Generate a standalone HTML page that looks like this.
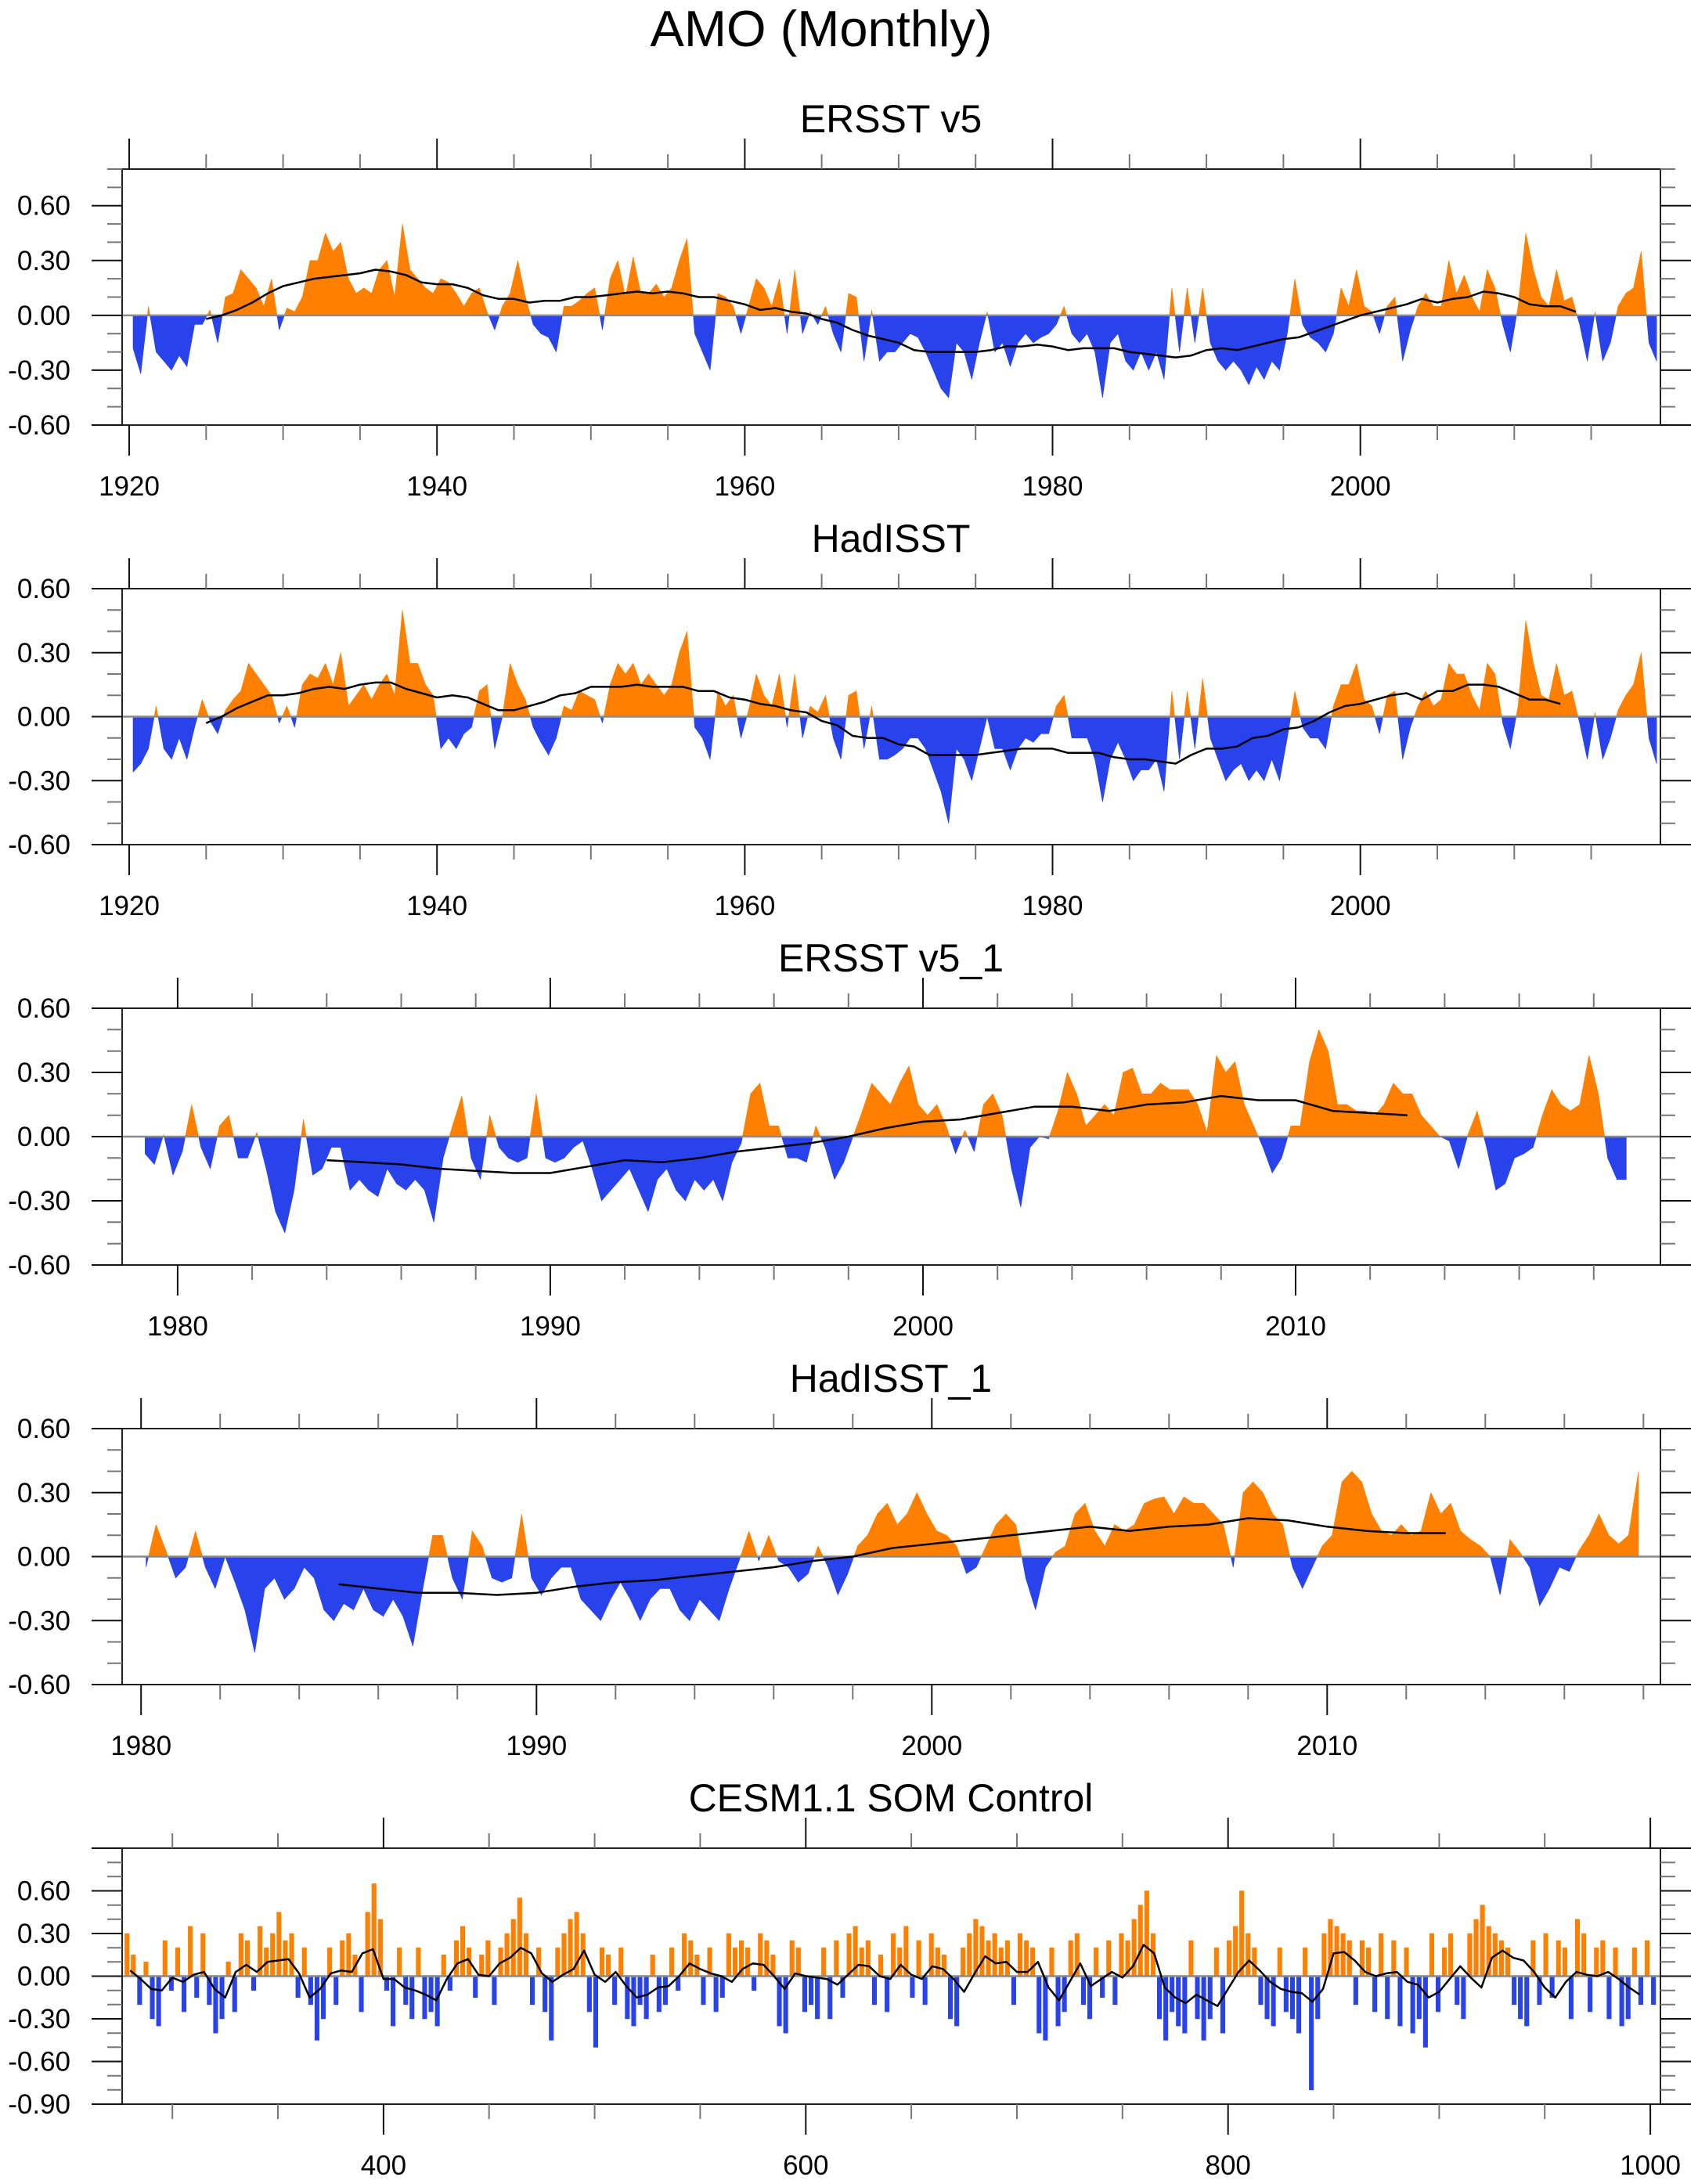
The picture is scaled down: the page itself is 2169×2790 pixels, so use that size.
<!DOCTYPE html>
<html><head><meta charset="utf-8"><title>AMO (Monthly)</title>
<style>html,body{margin:0;padding:0;background:#fff}svg{display:block}text{font-family:"Liberation Sans",Arial,sans-serif;fill:#000}</style>
</head><body>
<svg id="chart" xmlns="http://www.w3.org/2000/svg" width="2169" height="2790" viewBox="0 0 2169 2790">
<rect width="2169" height="2790" fill="#fff"/>
<text x="1049" y="59" font-size="65" text-anchor="middle">AMO (Monthly)</text>
</svg>
<script>
// ---- Panel 1: ERSST v5 (start 1920.0, step 0.5 yr)
const p1Values=[-0.18,-0.32,0.05,-0.2,-0.25,-0.3,-0.22,-0.28,-0.05,-0.05,0.03,-0.15,0.1,0.12,0.25,0.2,0.15,0.05,0.2,-0.08,
0.04,0.02,0.1,0.3,0.3,0.45,0.35,0.4,0.2,0.12,0.15,0.12,0.25,0.3,0.1,0.5,0.25,0.2,0.15,0.12,
0.2,0.18,0.12,0.05,0.12,0.15,0.02,-0.08,0.05,0.12,0.3,0.1,-0.05,-0.1,-0.12,-0.2,0.05,0.05,0.08,0.12,
0.15,-0.08,0.2,0.3,0.1,0.32,0.12,0.12,0.17,0.1,0.15,0.3,0.42,-0.1,-0.2,-0.3,0.12,0.1,0.05,-0.1,
0.05,0.2,0.15,0.05,0.2,-0.1,0.25,-0.1,0.02,-0.05,0.05,-0.1,-0.2,0.12,0.1,-0.25,0.03,-0.25,-0.2,-0.2,
-0.15,-0.1,-0.12,-0.2,-0.3,-0.4,-0.45,-0.15,-0.2,-0.35,-0.15,0.02,-0.2,-0.15,-0.28,-0.15,-0.1,-0.15,-0.12,-0.1,
-0.05,0.05,-0.1,-0.15,-0.1,-0.2,-0.45,-0.15,-0.1,-0.25,-0.3,-0.2,-0.3,-0.2,-0.35,0.15,-0.2,0.15,-0.15,0.15,
-0.15,-0.25,-0.3,-0.25,-0.3,-0.38,-0.28,-0.35,-0.25,-0.3,-0.1,0.2,-0.05,-0.12,-0.15,-0.2,-0.1,0.15,0.05,0.25,
0.05,0.02,-0.1,0.05,0.1,-0.25,-0.08,0.05,0.12,0.05,0.05,0.3,0.12,0.22,0.1,0.02,0.25,0.15,-0.05,-0.2,
0.05,0.45,0.25,0.1,0.05,0.25,0.08,0.1,-0.05,-0.25,0.02,-0.25,-0.15,0.05,0.12,0.15,0.35,-0.15,-0.25];
const p1Smooth=[-0.02,0.0,0.03,0.07,0.12,0.16,0.18,0.2,0.21,0.22,0.23,0.25,0.24,0.22,0.18,0.17,0.17,0.15,0.11,0.09,
0.09,0.07,0.08,0.08,0.1,0.1,0.11,0.12,0.13,0.12,0.13,0.12,0.1,0.1,0.08,0.06,0.03,0.04,0.02,0.01,
-0.02,-0.04,-0.08,-0.11,-0.13,-0.15,-0.19,-0.2,-0.2,-0.2,-0.2,-0.19,-0.17,-0.17,-0.16,-0.17,-0.19,-0.18,-0.18,-0.18,
-0.2,-0.21,-0.22,-0.23,-0.22,-0.19,-0.18,-0.19,-0.17,-0.15,-0.13,-0.12,-0.09,-0.06,-0.03,0.0,0.02,0.04,0.06,0.09,
0.07,0.09,0.1,0.13,0.12,0.1,0.06,0.05,0.05,0.02];
// ---- Panel 2: HadISST
const p2Values=[-0.26,-0.22,-0.15,0.05,-0.15,-0.2,-0.1,-0.2,-0.05,0.08,-0.02,-0.08,0.03,0.08,0.12,0.25,0.2,0.15,0.1,-0.03,
0.05,-0.05,0.15,0.2,0.18,0.25,0.15,0.3,0.05,0.1,0.15,0.08,0.15,0.2,0.1,0.5,0.25,0.25,0.15,0.1,
-0.15,-0.1,-0.15,-0.08,-0.05,0.12,0.15,-0.15,0.0,0.25,0.15,0.08,-0.05,-0.12,-0.18,-0.1,0.05,0.03,0.12,0.1,
0.08,-0.03,0.15,0.25,0.2,0.25,0.15,0.2,0.15,0.1,0.15,0.3,0.4,-0.05,-0.1,-0.2,0.12,0.05,0.1,-0.1,
0.03,0.2,0.1,0.05,0.2,-0.05,0.2,-0.1,0.05,0.02,0.1,-0.1,-0.2,0.1,0.12,-0.15,0.05,-0.2,-0.2,-0.18,
-0.15,-0.1,-0.1,-0.15,-0.25,-0.35,-0.5,-0.15,-0.2,-0.3,-0.15,0.0,-0.15,-0.15,-0.25,-0.15,-0.1,-0.12,-0.08,-0.08,
0.05,0.1,-0.1,-0.1,-0.1,-0.2,-0.4,-0.2,-0.12,-0.2,-0.3,-0.25,-0.25,-0.2,-0.35,0.12,-0.2,0.12,-0.15,0.18,
-0.1,-0.2,-0.3,-0.25,-0.22,-0.3,-0.25,-0.3,-0.2,-0.3,-0.1,0.12,-0.05,-0.1,-0.1,-0.15,0.05,0.15,0.15,0.25,
0.08,0.05,-0.08,0.1,0.12,-0.2,-0.05,0.05,0.12,0.05,0.08,0.25,0.2,0.2,0.1,0.03,0.25,0.2,-0.03,-0.15,
0.05,0.45,0.25,0.1,0.08,0.25,0.1,0.12,-0.03,-0.2,0.02,-0.2,-0.1,0.03,0.1,0.15,0.3,-0.1,-0.22];
const p2Smooth=[-0.03,0.0,0.04,0.07,0.1,0.1,0.11,0.13,0.14,0.13,0.15,0.16,0.16,0.13,0.11,0.09,0.1,0.09,0.06,0.03,
0.03,0.05,0.07,0.1,0.11,0.14,0.14,0.14,0.15,0.14,0.14,0.14,0.12,0.12,0.09,0.08,0.06,0.05,0.03,0.02,
-0.02,-0.04,-0.09,-0.1,-0.1,-0.13,-0.14,-0.18,-0.18,-0.18,-0.18,-0.17,-0.16,-0.15,-0.15,-0.15,-0.17,-0.17,-0.17,-0.19,
-0.2,-0.2,-0.21,-0.22,-0.18,-0.15,-0.15,-0.14,-0.1,-0.09,-0.06,-0.05,-0.02,0.02,0.05,0.06,0.08,0.1,0.11,0.08,
0.12,0.12,0.15,0.15,0.14,0.11,0.08,0.08,0.06];
// ---- Panel 3: ERSST v5_1 (start 1979.0, step 0.25 yr)
const p3Values=[-0.08,-0.13,0.01,-0.18,-0.07,0.15,-0.05,-0.15,0.05,0.1,-0.1,-0.1,0.02,-0.15,-0.35,-0.45,-0.25,0.08,-0.18,-0.15,
-0.05,-0.05,-0.25,-0.2,-0.25,-0.28,-0.15,-0.22,-0.25,-0.2,-0.25,-0.4,-0.1,0.05,0.19,-0.1,-0.2,0.1,-0.05,-0.1,
-0.12,-0.1,0.2,-0.1,-0.12,-0.1,-0.05,-0.02,-0.15,-0.3,-0.25,-0.2,-0.15,-0.25,-0.35,-0.2,-0.15,-0.25,-0.3,-0.2,
-0.25,-0.2,-0.3,-0.12,-0.03,0.2,0.25,0.05,0.05,-0.1,-0.1,-0.12,0.05,-0.05,-0.2,-0.12,0.0,0.12,0.25,0.2,
0.15,0.25,0.33,0.15,0.1,0.15,0.05,-0.08,0.03,-0.07,0.15,0.2,0.1,-0.15,-0.33,-0.05,0.0,-0.01,0.12,0.3,
0.2,0.05,0.1,0.15,0.1,0.3,0.32,0.2,0.2,0.25,0.22,0.22,0.22,0.15,0.02,0.38,0.3,0.35,0.15,0.05,
-0.05,-0.17,-0.1,0.05,0.05,0.35,0.5,0.4,0.15,0.15,0.12,0.12,0.1,0.15,0.25,0.2,0.2,0.1,0.05,0.0,
-0.02,-0.15,0.01,0.12,-0.05,-0.25,-0.22,-0.1,-0.08,-0.05,0.1,0.22,0.15,0.12,0.15,0.38,0.2,-0.1,-0.2,-0.2];
const p3Smooth=[-0.11,-0.12,-0.13,-0.15,-0.16,-0.17,-0.17,-0.14,-0.11,-0.12,-0.1,-0.07,-0.05,-0.03,0.0,0.04,0.07,0.08,0.11,0.14,
0.14,0.12,0.15,0.16,0.19,0.17,0.17,0.12,0.11,0.1];
// ---- Panel 4: HadISST_1 (start 1980.0, step 0.25 yr)
const p4Values=[-0.05,0.15,0.03,-0.1,-0.05,0.12,-0.05,-0.15,0.0,-0.12,-0.25,-0.45,-0.15,-0.1,-0.2,-0.15,-0.05,-0.1,-0.25,-0.3,
-0.22,-0.25,-0.15,-0.25,-0.28,-0.2,-0.28,-0.42,-0.15,0.1,0.1,-0.1,-0.2,0.12,0.05,-0.1,-0.12,-0.1,0.2,-0.1,
-0.18,-0.1,-0.05,-0.05,-0.2,-0.25,-0.3,-0.2,-0.12,-0.2,-0.3,-0.2,-0.15,-0.15,-0.25,-0.3,-0.2,-0.25,-0.3,-0.15,
-0.02,0.12,-0.02,0.1,-0.02,-0.05,-0.12,-0.08,0.05,-0.05,-0.18,-0.08,0.05,0.1,0.2,0.25,0.15,0.2,0.3,0.2,
0.12,0.1,0.05,-0.08,-0.05,0.05,0.15,0.2,0.15,-0.1,-0.25,-0.05,0.02,0.05,0.2,0.25,0.12,0.05,0.15,0.12,
0.15,0.25,0.27,0.28,0.2,0.28,0.25,0.25,0.2,0.15,-0.05,0.3,0.35,0.3,0.2,0.15,-0.05,-0.15,-0.05,0.05,
0.1,0.35,0.4,0.35,0.2,0.12,0.1,0.15,0.1,0.12,0.3,0.2,0.25,0.12,0.08,0.05,0.0,-0.18,0.08,0.02,
-0.05,-0.23,-0.15,-0.05,-0.07,0.03,0.1,0.2,0.1,0.06,0.1,0.4];
const p4Smooth=[-0.13,-0.15,-0.17,-0.17,-0.18,-0.17,-0.14,-0.12,-0.11,-0.09,-0.07,-0.05,-0.02,0.0,0.04,0.06,0.08,0.1,0.12,0.14,
0.12,0.14,0.15,0.18,0.17,0.14,0.12,0.11,0.11];
// ---- Panel 5: CESM1.1 SOM Control (bars start 277, step 3)
const p5Values=[0.3,0.15,-0.2,0.1,-0.3,-0.35,0.25,-0.1,0.2,-0.25,
0.35,-0.15,0.3,-0.2,-0.4,-0.3,0.1,-0.25,0.3,0.25,
-0.1,0.35,0.2,0.3,0.45,0.25,0.3,-0.15,0.2,-0.2,
-0.45,-0.3,0.2,-0.2,0.25,0.3,0.15,-0.25,0.45,0.65,
0.4,-0.1,-0.35,0.2,-0.2,-0.3,0.2,-0.3,-0.25,-0.35,
0.15,-0.1,0.25,0.35,0.2,-0.15,0.15,0.25,-0.2,0.2,
0.3,0.4,0.55,0.3,-0.2,0.2,-0.25,-0.45,0.2,0.3,
0.4,0.45,0.3,-0.25,-0.5,0.2,0.15,-0.2,0.2,-0.3,
-0.35,-0.2,-0.3,0.15,-0.25,-0.2,0.2,-0.1,0.3,0.25,
0.15,-0.2,0.2,-0.25,-0.15,0.3,0.2,0.25,0.2,-0.1,
0.3,0.25,0.15,-0.35,-0.4,0.25,0.2,-0.25,-0.2,-0.3,
0.2,-0.3,0.25,-0.15,0.3,0.35,0.2,0.25,-0.2,0.15,
-0.25,0.3,0.2,0.35,-0.15,0.25,-0.2,0.3,0.2,0.15,
-0.3,-0.35,0.2,0.3,0.4,0.35,0.25,0.3,0.2,0.25,
-0.2,0.3,0.25,0.2,-0.4,-0.45,0.2,-0.35,-0.25,0.25,
0.3,-0.2,-0.3,0.2,-0.15,0.25,-0.2,0.3,0.25,0.4,
0.5,0.6,0.3,-0.3,-0.45,-0.25,-0.35,-0.4,0.25,-0.3,
-0.45,-0.3,0.2,-0.4,0.25,0.35,0.6,0.3,0.2,-0.2,
-0.3,-0.35,0.2,-0.25,-0.3,-0.4,0.2,-0.8,-0.3,0.3,
0.4,0.35,0.3,0.25,-0.2,0.25,0.2,-0.25,0.3,-0.3,
0.25,-0.35,0.2,-0.4,-0.3,-0.5,0.3,-0.25,0.2,0.3,
-0.2,-0.3,0.3,0.4,0.5,0.35,0.3,0.25,0.2,-0.2,
-0.3,-0.35,0.25,-0.2,0.3,-0.15,0.25,0.2,-0.3,0.4,
0.3,-0.25,0.2,0.25,-0.3,0.2,-0.35,-0.3,0.2,-0.2,
0.25,-0.2];
const p5Smooth=[0.04,-0.02,-0.09,-0.1,-0.01,-0.04,0.01,0.03,-0.09,-0.15,0.03,0.08,0.03,0.1,0.11,0.12,0.02,-0.15,-0.09,0.02,
0.04,0.03,0.16,0.19,-0.02,-0.02,-0.08,-0.1,-0.13,-0.17,-0.02,0.09,0.12,0.01,0.0,0.09,0.13,0.2,0.16,0.02,
-0.04,0.01,0.05,0.18,0.01,-0.04,0.03,-0.07,-0.15,-0.13,-0.08,-0.07,0.0,0.09,0.05,0.02,0.0,-0.04,0.05,0.09,
0.08,0.0,-0.09,0.02,0.0,-0.01,-0.02,-0.06,0.01,0.08,0.07,0.0,-0.02,0.08,0.01,-0.02,0.07,0.05,-0.02,-0.11,
0.02,0.14,0.09,0.1,0.03,0.03,0.1,-0.08,-0.17,-0.04,0.09,-0.07,-0.02,0.03,-0.01,0.07,0.22,0.16,-0.08,-0.15,
-0.19,-0.13,-0.17,-0.21,-0.09,0.03,0.11,0.04,-0.04,-0.09,-0.11,-0.12,-0.18,-0.09,0.16,0.17,0.11,0.03,0.0,0.02,
0.03,-0.04,-0.06,-0.15,-0.11,-0.02,0.07,-0.01,-0.08,0.13,0.18,0.13,0.11,0.03,-0.08,-0.15,-0.04,0.03,0.01,0.0,
0.03,-0.02,-0.08,-0.13];
const yLabels1=["0.60","0.30","0.00","-0.30","-0.60"];
const yLabels5=["0.60","0.30","0.00","-0.30","-0.60","-0.90"];
const xLabelsA=["1920","1940","1960","1980","2000"];
const xLabelsB=["1980","1990","2000","2010"];
const xLabelsC=["400","600","800","1000"];

const NS="http://www.w3.org/2000/svg";
const svg=document.getElementById('chart');
function mk(tag,attrs,parent){const e=document.createElementNS(NS,tag);for(const k in attrs)e.setAttribute(k,attrs[k]);(parent||svg).appendChild(e);return e;}
const f=n=>n.toFixed(1);
const L=156,R=2121;
function panel(cfg){
  const g=mk('g',{});
  
  
  const xs=v=>L+(v-cfg.x0)/(cfg.x1-cfg.x0)*(R-L);
  const ys=v=>cfg.top+(cfg.y1-v)/(cfg.y1-cfg.y0)*(cfg.bot-cfg.top);
  const t=mk('text',{x:1138,y:cfg.top-47,'font-size':50,'text-anchor':'middle'},g);
  t.textContent=cfg.title;
  
  
  let pos='',neg='';
  const y0=ys(0);
  if(cfg.thin){
    cfg.vals.forEach((v,i)=>{
      const c=xs(cfg.bStart+i*cfg.bStep+cfg.bStep/2);
      let xa=Math.max(c-cfg.thin/2,L),xb=Math.min(c+cfg.thin/2,R);
      if(xb<=xa)return;
      const d='M'+f(xa)+' '+f(y0)+'V'+f(ys(v))+'H'+f(xb)+'V'+f(y0)+'Z';
      if(v>=0)pos+=d;else neg+=d;
    });
  } else {
    // area mode with zero-crossing splits
    const P=cfg.vals.map((v,i)=>[xs(cfg.bStart+i*cfg.bStep+cfg.bStep/2),v]);
    for(let i=0;i<P.length-1;i++){
      const [xa,va]=P[i],[xb,vb]=P[i+1];
      if(va>=0&&vb>=0||va<=0&&vb<=0){
        const d='M'+f(xa)+' '+f(y0)+'L'+f(xa)+' '+f(ys(va))+'L'+f(xb)+' '+f(ys(vb))+'L'+f(xb)+' '+f(y0)+'Z';
        if(va+vb>=0)pos+=d;else neg+=d;
      } else {
        const xc=xa+(xb-xa)*va/(va-vb);
        const d1='M'+f(xa)+' '+f(y0)+'L'+f(xa)+' '+f(ys(va))+'L'+f(xc)+' '+f(y0)+'Z';
        const d2='M'+f(xc)+' '+f(y0)+'L'+f(xb)+' '+f(ys(vb))+'L'+f(xb)+' '+f(y0)+'Z';
        if(va>0){pos+=d1;neg+=d2;}else{neg+=d1;pos+=d2;}
      }
    }
  }
  const bp=mk('path',{d:pos,fill:'#ff8000',stroke:'#ff8000','stroke-width':0.6},g);
  
  
  const bn=mk('path',{d:neg,fill:'#2843ec',stroke:'#2843ec','stroke-width':0.6},g);
  
  
  const zl=mk('line',{x1:L,x2:R,y1:y0,y2:y0,stroke:'#8a8a8a','stroke-width':2.5},g);
  
  
  const pts=cfg.smooth.map((v,i)=>f(xs(cfg.sStart+i*cfg.sStep))+','+f(ys(v))).join(' ');
  const sl=mk('polyline',{points:pts,fill:'none',stroke:'#000','stroke-width':2.5,'stroke-linejoin':'round'},g);
  
  
  const fr=mk('rect',{x:L,y:cfg.top,width:R-L,height:cfg.bot-cfg.top,fill:'none',stroke:'#222','stroke-width':2},g);
  
  
  let tk='',mn='';
  for(let v=cfg.y0;v<=cfg.y1+1e-6;v+=0.1){
    const y=ys(v);const major=Math.abs(Math.round(v*10)%3)===0;
    const len=major?39:19;
    const d='M'+(L-len)+' '+f(y)+'H'+L+'M'+R+' '+f(y)+'H'+(R+len);
    if(major)tk+=d;else mn+=d;
  }
  for(let v=cfg.xmStart;v<=cfg.x1;v+=cfg.xMinor){
    if(v<cfg.x0)continue;
    const x=f(xs(v));
    const q=(v-cfg.xMajStart)/cfg.xMajor;
    const major=Math.abs(q-Math.round(q))<1e-6;
    const len=major?39:19;
    const d='M'+x+' '+(cfg.top-len)+'V'+cfg.top+'M'+x+' '+cfg.bot+'V'+(cfg.bot+len);
    if(major)tk+=d;else mn+=d;
  }
  const mt=mk('path',{d:tk,stroke:'#111','stroke-width':2,fill:'none'},g);
  
  
  const mi=mk('path',{d:mn,stroke:'#777','stroke-width':2,fill:'none'},g);
  
  
  cfg.yl.forEach(s=>{
    const tx=mk('text',{x:90,y:f(ys(parseFloat(s))+12),'font-size':35,'text-anchor':'end'},g);
    tx.textContent=s;
    
    
  });
  cfg.xl.forEach(s=>{
    const tx=mk('text',{x:f(xs(parseFloat(s))),y:cfg.bot+90,'font-size':35,'text-anchor':'middle'},g);
    tx.textContent=s;
    
    
  });
}
panel({name:'ersst-v5-panel',title:'ERSST v5',top:216,bot:543,y0:-0.6,y1:0.8,x0:1919.54,x1:2019.5,vals:p1Values,bStart:1920,bStep:0.5,smooth:p1Smooth,sStart:1925,sStep:1,xMinor:5,xmStart:1920,xMajor:20,xMajStart:1920,yl:yLabels1,xl:xLabelsA});
panel({name:'hadisst-panel',title:'HadISST',top:752,bot:1079,y0:-0.6,y1:0.6,x0:1919.54,x1:2019.5,vals:p2Values,bStart:1920,bStep:0.5,smooth:p2Smooth,sStart:1925,sStep:1,xMinor:5,xmStart:1920,xMajor:20,xMajStart:1920,yl:yLabels1,xl:xLabelsA});
panel({name:'ersst-v5-1-panel',title:'ERSST v5_1',top:1288,bot:1616,y0:-0.6,y1:0.6,x0:1978.51,x1:2019.79,vals:p3Values,bStart:1979,bStep:0.25,smooth:p3Smooth,sStart:1984,sStep:1,xMinor:2,xmStart:1978,xMajor:10,xMajStart:1980,yl:yLabels1,xl:xLabelsB});
panel({name:'hadisst-1-panel',title:'HadISST_1',top:1825,bot:2152,y0:-0.6,y1:0.6,x0:1979.52,x1:2018.43,vals:p4Values,bStart:1980,bStep:0.25,smooth:p4Smooth,sStart:1985,sStep:1,xMinor:2,xmStart:1980,xMajor:10,xMajStart:1980,yl:yLabels1,xl:xLabelsB});
panel({name:'cesm-som-panel',title:'CESM1.1 SOM Control',top:2361,bot:2688,y0:-0.9,y1:0.9,x0:276.2,x1:1004.8,vals:p5Values,bStart:277,bStep:3,thin:5.5,smooth:p5Smooth,sStart:280,sStep:5,xMinor:50,xmStart:300,xMajor:200,xMajStart:400,yl:yLabels5,xl:xLabelsC});
</script>
</body></html>
